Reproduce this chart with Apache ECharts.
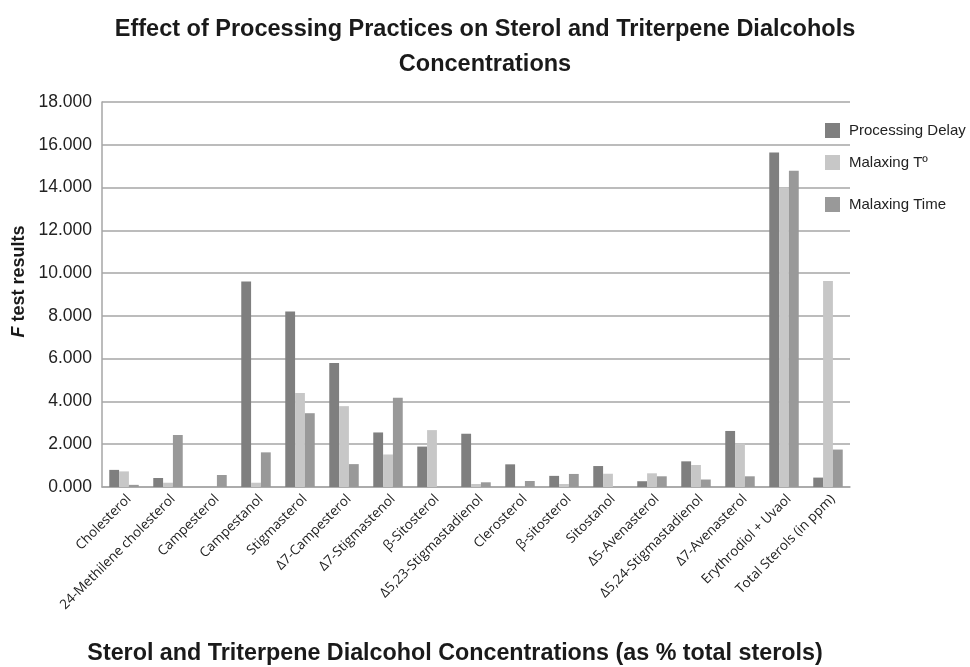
<!DOCTYPE html>
<html>
<head>
<meta charset="utf-8">
<script src="https://cdn.jsdelivr.net/npm/echarts@6/dist/echarts.min.js"></script>
<style>
  html, body { margin: 0; padding: 0; background: #fff; }
  #chart { width: 970px; height: 667px; }
</style>
</head>
<body>
<div id="chart"></div>
<script>
// categories along the x axis
const categories = [
  "Cholesterol",
  "24-Methilene cholesterol",
  "Campesterol",
  "Campestanol",
  "Stigmasterol",
  "Δ7-Campesterol",
  "Δ7-Stigmastenol",
  "β-Sitosterol",
  "Δ5,23-Stigmastadienol",
  "Clerosterol",
  "β-sitosterol",
  "Sitostanol",
  "Δ5-Avenasterol",
  "Δ5,24-Stigmastadienol",
  "Δ7-Avenasterol",
  "Erythrodiol + Uvaol",
  "Total Sterols (in ppm)",
];

// F test results
const processingDelay = [0.8, 0.42, 0, 9.61, 8.21, 5.8, 2.55, 1.89, 2.49, 1.06, 0.52, 0.98, 0.27, 1.2, 2.62, 15.64, 0.44];
const malaxingTemp = [0.73, 0.2, 0, 0.2, 4.39, 3.78, 1.52, 2.66, 0.14, 0, 0.14, 0.62, 0.64, 1.03, 2.03, 13.99, 9.63];
const malaxingTime = [0.1, 2.43, 0.56, 1.62, 3.45, 1.07, 4.17, 0, 0.22, 0.28, 0.61, 0, 0.5, 0.35, 0.5, 14.78, 1.75];

const seriesNames = ["Processing Delay", "Malaxing Tº", "Malaxing Time"];
const colors = ["#7f7f7f", "#c7c7c7", "#999999"];

const chart = echarts.init(document.getElementById("chart"));

const makeSeries = (name, data, color) => ({
  name: name,
  type: "bar",
  data: data,
  barGap: "0%",
  barCategoryGap: "33%",
  itemStyle: { color: color },
  emphasis: { disabled: true },
});

const makeLegend = (name, top) => ({
  data: [name],
  left: 820,
  top: top,
  icon: "rect",
  itemWidth: 15,
  itemHeight: 15,
  textStyle: {
    fontFamily: "Liberation Sans",
    fontSize: 15,
    color: "#222",
    padding: [0, 0, 0, 4],
  },
});

const titleStyle = {
  fontFamily: "Liberation Sans",
  fontSize: 23.5,
  fontWeight: "bold",
  color: "#1a1a1a",
};

const options = {
  animation: false,
  color: colors,
  title: [
    {
      text: "Effect of Processing Practices on Sterol and Triterpene Dialcohols",
      left: "center",
      top: 13,
      padding: [5, 17, 5, 5],
      textStyle: titleStyle,
    },
    {
      text: "Concentrations",
      left: "center",
      top: 48,
      textStyle: titleStyle,
    },
  ],
  legend: [
    makeLegend(seriesNames[0], 118),
    makeLegend(seriesNames[1], 150),
    makeLegend(seriesNames[2], 192),
  ],
  grid: {
    left: 102,
    right: 120,
    top: 102,
    bottom: 180,
    outerBoundsMode: "none",
    containLabel: false,
  },
  xAxis: {
    type: "category",
    data: categories,
    name: "Sterol and Triterpene Dialcohol Concentrations (as % total sterols)",
    nameLocation: "middle",
    nameGap: 155,
    nameTextStyle: {
      fontFamily: "Liberation Sans",
      fontSize: 23.3,
      fontWeight: "bold",
      color: "#1a1a1a",
      padding: [0, 42, 0, 0],
    },
    axisLine: { lineStyle: { color: "#a6a6a6", width: 1.5 } },
    axisTick: { show: false },
    axisLabel: {
      interval: 0,
      rotate: 45,
      margin: 5,
      verticalAlign: "top",
      fontFamily: "Open Sans",
      fontSize: 13.5,
      color: "#222",
    },
  },
  yAxis: {
    type: "value",
    min: 0,
    max: 18,
    interval: 2,
    name: "{i|F} test results",
    nameLocation: "middle",
    nameGap: 66,
    nameTextStyle: {
      fontFamily: "Liberation Sans",
      fontSize: 18,
      fontWeight: "bold",
      color: "#1a1a1a",
      padding: [0, 0, 0, 26],
      rich: {
        i: {
          fontFamily: "Liberation Sans",
          fontSize: 18,
          fontWeight: "bold",
          fontStyle: "italic",
          color: "#1a1a1a",
        },
      },
    },
    axisLine: { show: true, lineStyle: { color: "#a6a6a6", width: 1.5 } },
    axisTick: { show: false },
    axisLabel: {
      margin: 10,
      fontFamily: "Liberation Sans",
      fontSize: 17.5,
      color: "#222",
      formatter: (v) => v.toFixed(3),
    },
    splitLine: { lineStyle: { color: "#a6a6a6", width: 1.5 } },
  },
  series: [
    makeSeries(seriesNames[0], processingDelay, colors[0]),
    makeSeries(seriesNames[1], malaxingTemp, colors[1]),
    makeSeries(seriesNames[2], malaxingTime, colors[2]),
  ],
};

chart.setOption(options);
</script>
</body>
</html>
